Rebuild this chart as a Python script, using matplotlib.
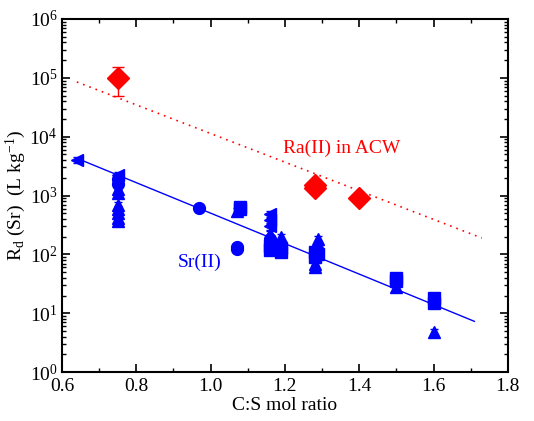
import numpy as np
import matplotlib
matplotlib.use("Agg")
import matplotlib.pyplot as plt
from matplotlib.ticker import LogLocator, MultipleLocator, NullFormatter

plt.rcParams['font.family'] = ['Liberation Serif', 'DejaVu Serif']
plt.rcParams['mathtext.fontset'] = 'custom'
plt.rcParams['mathtext.rm'] = 'Liberation Serif'
plt.rcParams['mathtext.it'] = 'Liberation Serif:italic'

# Sr(II) data grouped by marker type
sr_ltri_x = [0.64, 0.75, 1.16, 1.16, 1.16]
sr_ltri_y = [4000, 2200, 480, 380, 300]

sr_circ_x = [0.75, 0.75, 0.97, 1.07, 1.07, 1.16, 1.16]
sr_circ_y = [1900, 1600, 620, 135, 125, 180, 150]

sr_tri_x = [0.75, 0.75, 0.75, 0.75, 0.75, 0.75, 0.75, 1.07, 1.16, 1.19, 1.19,
            1.29, 1.29, 1.28, 1.28, 1.50, 1.60]
sr_tri_y = [1300, 1100, 700, 600, 500, 420, 370, 550, 220, 200, 160,
            180, 150, 70, 60, 28, 4.8]

sr_sq_x = [1.08, 1.08, 1.16, 1.16, 1.19, 1.19, 1.28, 1.28, 1.29, 1.50, 1.50, 1.60, 1.60]
sr_sq_y = [650, 600, 140, 120, 130, 110, 110, 90, 100, 40, 35, 18, 15]

# Ra(II) data
ra_x = [0.75, 1.28, 1.28, 1.40]
ra_y = [1.0e5, 1500, 1350, 900]
ra_err_lo = [5.0e4, 0, 0, 0]
ra_err_hi = [5.0e4, 0, 0, 0]

# fitted trend lines (endpoints)
sr_fit_x = [0.64, 1.71]
sr_fit_y = [4300, 7.3]
ra_fit_x = [0.64, 1.73]
ra_fit_y = [8.5e4, 190]

xticks = [0.6, 0.8, 1.0, 1.2, 1.4, 1.6, 1.8]
xtick_labels = ['0.6', '0.8', '1.0', '1.2', '1.4', '1.6', '1.8']

blue = '#0000ff'
red = '#ff0000'

fig = plt.figure(figsize=(5.34, 4.21), dpi=100)
ax = fig.add_axes([0.116, 0.116, 0.835, 0.839])

ax.plot(sr_fit_x, sr_fit_y, color=blue, lw=1.0, zorder=2)
ax.plot(ra_fit_x, ra_fit_y, color=red, lw=1.2, ls=(0, (1, 3)), zorder=2)

ms = 8.5
def sr(xs, ys, m):
    ys = np.array(ys, dtype=float)
    ax.errorbar(xs, ys, yerr=[ys * 0.12, ys * 0.12], fmt=m, color=blue, ms=ms,
                mec=blue, mfc=blue, elinewidth=1.0, capsize=3, zorder=3)

sr(sr_ltri_x, sr_ltri_y, '<')
sr(sr_circ_x, sr_circ_y, 'o')
sr(sr_tri_x, sr_tri_y, '^')
sr(sr_sq_x, sr_sq_y, 's')

ax.errorbar(ra_x, ra_y, yerr=[ra_err_lo, ra_err_hi], fmt='D', color=red, ms=11,
            mec=red, mfc=red, elinewidth=1.0, capsize=4, zorder=4)

ax.text(1.353, 6450, 'Ra(II) in ACW', color=red, fontsize=14, ha='center', va='center')
ax.text(0.971, 74, 'Sr(II)', color=blue, fontsize=14, ha='center', va='center')

ax.set_yscale('log')
ax.set_xlim(0.6, 1.8)
ax.set_ylim(1, 1e6)
ax.set_xticks(xticks)
ax.set_xticklabels(xtick_labels)
ax.xaxis.set_minor_locator(MultipleLocator(0.1))
ax.yaxis.set_major_locator(LogLocator(base=10, numticks=10))
ax.yaxis.set_minor_locator(LogLocator(base=10, subs=np.arange(2, 10), numticks=20))
ax.yaxis.set_minor_formatter(NullFormatter())

ax.tick_params(which='both', direction='in', top=True, right=True, labelsize=14)
ax.tick_params(which='major', length=6, width=1.2)
ax.tick_params(which='minor', length=3, width=1.0)
ax.tick_params(axis='x', pad=4)
ax.tick_params(axis='y', pad=3)
for s in ax.spines.values():
    s.set_linewidth(1.5)

ax.set_xlabel('C:S mol ratio', fontsize=14, labelpad=2)
ax.set_ylabel(r'R$_\mathrm{d}$ (Sr)  (L kg$^{-1}$)', fontsize=14, labelpad=1)

fig.savefig('out.png', dpi=100)
